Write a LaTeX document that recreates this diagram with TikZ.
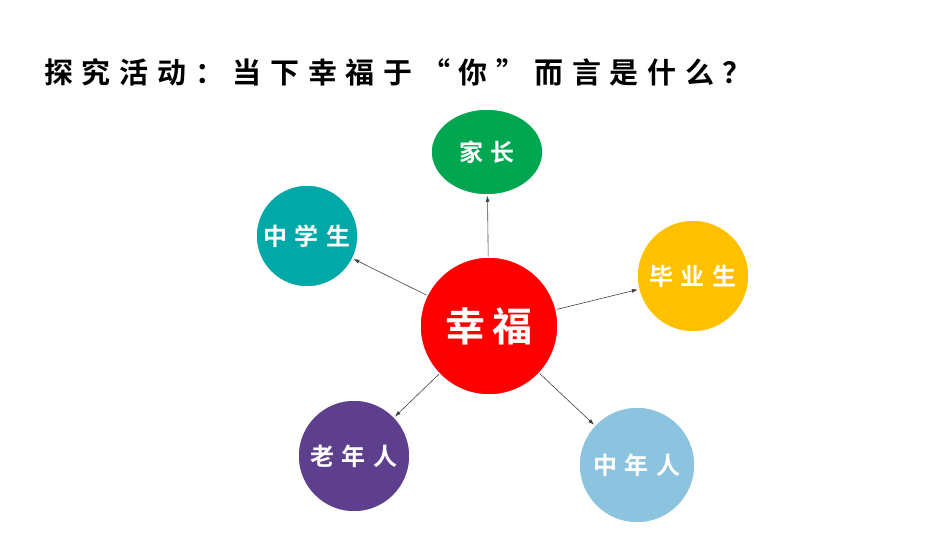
\documentclass[tikz,border=0pt]{standalone}
\usepackage{fontspec}
\newfontfamily\cjk{Noto Sans CJK SC Bold}
\newfontfamily\cjksp[LetterSpace=30]{Noto Sans CJK SC Bold}
\usetikzlibrary{arrows.meta,shapes.geometric}
\definecolor{purp}{HTML}{5E3F8E}
\definecolor{sky}{HTML}{8CC4E0}
\definecolor{tl}{HTML}{00A8A8}
\definecolor{gr}{HTML}{00A650}
\definecolor{yel}{HTML}{FFC000}
\begin{document}
\begin{tikzpicture}[x=1pt,y=-1pt,
  bub/.style={circle,draw=white,line width=1.5pt,text=white,font=\cjksp\fontsize{24}{26}\selectfont,inner sep=0pt},
  con/.style={-{Latex[length=6pt,width=4pt]},draw=black!75,line width=0.6pt}]
\useasboundingbox (0,0) rectangle (950,535);
\node[anchor=west,font=\cjksp\fontsize{29}{32}\selectfont,inner sep=0pt] (t) at (44,72) {探究活动：当下幸福于“你”而言是什么？};
\node[bub,fill=red,minimum size=138pt,font=\cjk\fontsize{40}{44}\selectfont] (c) at (489,326) {幸\,福};
\node[bub,fill=gr,ellipse,minimum width=112pt,minimum height=86pt] (a) at (487,152) {家长};
\node[bub,fill=tl,minimum size=102pt] (b) at (307,236) {中学生};
\node[bub,fill=yel,minimum size=112pt] (d) at (693,276) {毕业生};
\node[bub,fill=purp,minimum size=112pt] (e) at (354,456) {老年人};
\node[bub,fill=sky,minimum size=116pt] (f) at (637,465) {中年人};
\draw[con] (c) -- (a);
\draw[con] (c) -- (b);
\draw[con] (c) -- (d);
\draw[con] (c) -- (e);
\draw[con] (c) -- (f);
\end{tikzpicture}
\end{document}
